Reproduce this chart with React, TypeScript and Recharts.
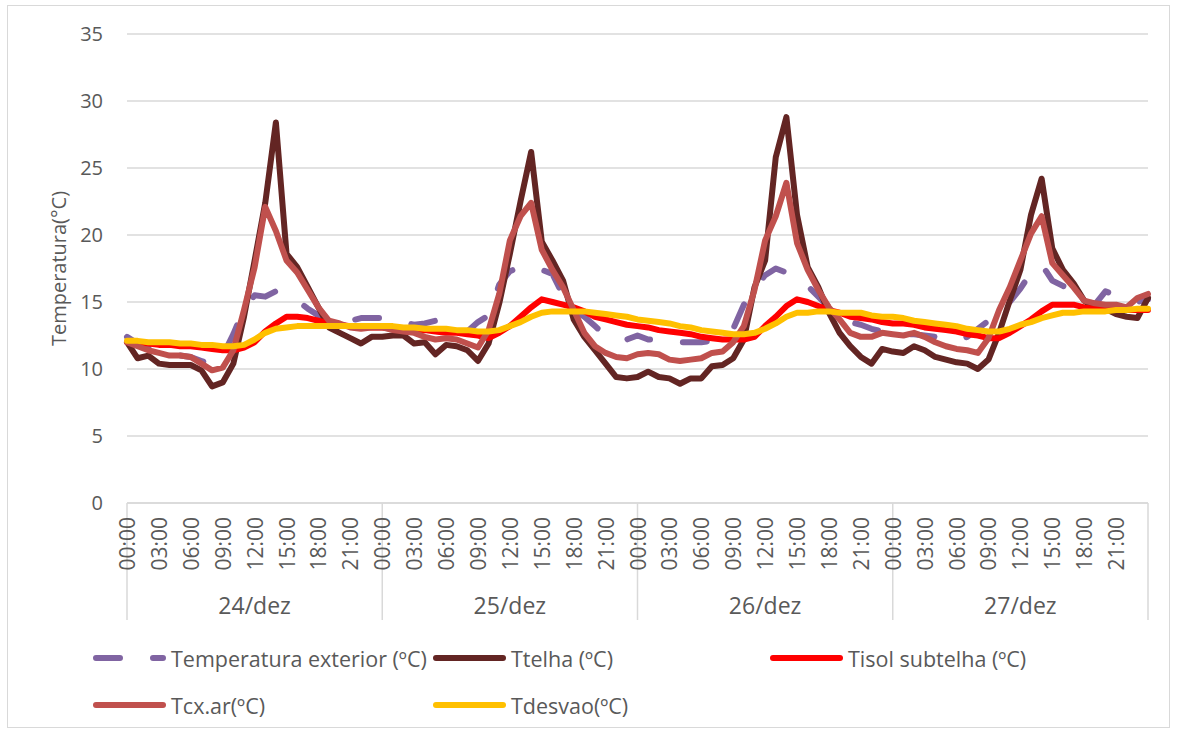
import React from "react";
import { LineChart, Line, XAxis, YAxis, CartesianGrid } from "recharts";

// hora desde 24/dez 00:00 (0..96)
const horas = Array.from({ length: 97 }, (_, i) => i);

const dias = ["24/dez", "25/dez", "26/dez", "27/dez"];
const ticksHoras = [0, 3, 6, 9, 12, 15, 18, 21, 24, 27, 30, 33, 36, 39, 42, 45, 48, 51, 54, 57, 60, 63, 66, 69, 72, 75, 78, 81, 84, 87, 90, 93, 96];
const ticksDias = [12, 36, 60, 84];
const ticksY = [0, 5, 10, 15, 20, 25, 30, 35];

const tempExterior = [
  12.4, 11.9, 11.6, 11.3, 11.1, 11.0, 10.9, 10.6, 10.3, 11.0, 12.6, 14.5, 15.5, 15.4, 15.8, 15.4, 15.1, 14.5, 14.0, 13.5, 13.3, 13.6, 13.8, 13.8,
  13.8, 13.7, 13.5, 13.3, 13.4, 13.6, 13.5, 13.0, 12.8, 13.5, 14.0, 16.3, 17.3, 17.6, 17.6, 17.4, 17.1, 15.5, 14.4, 13.9, 13.2, 12.5, 12.3, 12.2,
  12.5, 12.2, 12.2, 12.1, 12.0, 12.0, 12.0, 12.1, 12.3, 13.0, 14.8, 16.0, 17.0, 17.5, 17.2, 16.9, 16.2, 15.4, 14.6, 13.9, 13.5, 13.3, 13.0, 12.8,
  12.6, 12.6, 12.6, 12.5, 12.4, 12.2, 12.1, 12.4, 13.0, 13.6, 14.0, 15.0, 16.0, 17.2, 17.8, 16.6, 16.2, 15.9, 15.2, 14.8, 15.8, 15.5, 15.2, 15.0, 15.2,
];

const tTelha = [
  12.0, 10.8, 11.0, 10.4, 10.3, 10.3, 10.3, 9.9, 8.7, 9.0, 10.4, 13.9, 18.1, 22.4, 28.4, 18.6, 17.6, 16.1, 14.6, 13.1, 12.7, 12.3, 11.9, 12.4,
  12.4, 12.5, 12.5, 11.9, 12.0, 11.1, 11.8, 11.7, 11.4, 10.6, 11.9, 14.9, 18.6, 22.5, 26.2, 19.5, 18.1, 16.6, 13.7, 12.4, 11.4, 10.4, 9.4, 9.3,
  9.4, 9.8, 9.4, 9.3, 8.9, 9.3, 9.3, 10.2, 10.3, 10.8, 12.2, 16.1, 18.1, 25.8, 28.8, 21.5, 17.6, 16.1, 14.2, 12.7, 11.7, 10.9, 10.4, 11.5,
  11.3, 11.2, 11.7, 11.4, 10.9, 10.7, 10.5, 10.4, 10.0, 10.7, 12.7, 15.1, 17.4, 21.5, 24.2, 19.0, 17.4, 16.4, 15.1, 14.6, 14.5, 14.1, 13.9, 13.8, 15.3,
];

const tIsol = [
  12.0, 11.9, 11.9, 11.8, 11.8, 11.7, 11.7, 11.6, 11.5, 11.4, 11.4, 11.6, 12.0, 12.8, 13.4, 13.9, 13.9, 13.8, 13.6, 13.4, 13.3, 13.2, 13.2, 13.1,
  13.1, 13.0, 13.0, 12.9, 12.9, 12.8, 12.7, 12.7, 12.6, 12.5, 12.3, 12.7, 13.2, 13.9, 14.6, 15.2, 15.0, 14.8, 14.6, 14.3, 13.9, 13.7, 13.5, 13.3,
  13.2, 13.1, 12.9, 12.8, 12.7, 12.6, 12.4, 12.3, 12.2, 12.2, 12.2, 12.4, 13.2, 13.9, 14.7, 15.2, 15.0, 14.7, 14.4, 14.2, 13.9, 13.8, 13.7, 13.5,
  13.4, 13.4, 13.3, 13.1, 13.0, 12.9, 12.8, 12.6, 12.5, 12.3, 12.3, 12.7, 13.2, 13.7, 14.3, 14.8, 14.8, 14.8, 14.6, 14.5, 14.5, 14.4, 14.4, 14.4, 14.4,
];

const tCxAr = [
  12.0, 11.7, 11.4, 11.2, 11.0, 11.0, 10.9, 10.4, 9.9, 10.1, 11.4, 14.4, 17.6, 22.1, 20.3, 18.1, 17.2, 15.9, 14.6, 13.6, 13.4, 13.1, 13.0, 13.1,
  13.1, 12.9, 12.8, 12.7, 12.4, 12.2, 12.3, 12.2, 11.9, 11.6, 12.9, 15.6, 19.6, 21.4, 22.4, 18.9, 17.4, 16.1, 14.4, 12.7, 11.7, 11.2, 10.9, 10.8,
  11.1, 11.2, 11.1, 10.7, 10.6, 10.7, 10.8, 11.2, 11.3, 12.0, 13.2, 15.9, 19.6, 21.4, 23.9, 19.4, 17.4, 15.9, 14.6, 13.7, 12.7, 12.4, 12.4, 12.7,
  12.6, 12.5, 12.7, 12.4, 12.0, 11.7, 11.5, 11.4, 11.2, 12.3, 14.4, 16.1, 18.1, 20.1, 21.4, 17.9, 17.0, 16.1, 15.1, 14.9, 14.8, 14.8, 14.6, 15.3, 15.6,
];

const tDesvao = [
  12.1, 12.1, 12.0, 12.0, 12.0, 11.9, 11.9, 11.8, 11.8, 11.7, 11.7, 11.8, 12.2, 12.7, 13.0, 13.1, 13.2, 13.2, 13.2, 13.2, 13.2, 13.2, 13.2, 13.2,
  13.2, 13.2, 13.1, 13.1, 13.0, 13.0, 13.0, 12.9, 12.9, 12.8, 12.8, 12.9, 13.2, 13.5, 13.9, 14.2, 14.3, 14.3, 14.3, 14.3, 14.2, 14.1, 14.0, 13.9,
  13.7, 13.6, 13.5, 13.4, 13.2, 13.1, 12.9, 12.8, 12.7, 12.6, 12.6, 12.7, 13.0, 13.4, 13.9, 14.2, 14.2, 14.3, 14.3, 14.2, 14.2, 14.2, 14.0, 13.9,
  13.9, 13.8, 13.6, 13.5, 13.4, 13.3, 13.2, 13.0, 12.9, 12.8, 12.8, 13.0, 13.3, 13.5, 13.8, 14.0, 14.2, 14.2, 14.3, 14.3, 14.3, 14.4, 14.4, 14.5, 14.5,
];

const series = [
  { key: "tempExterior", name: "Temperatura exterior (ºC)", color: "#8064A2", dash: "24 33" },
  { key: "tTelha", name: "Ttelha (ºC)", color: "#632523" },
  { key: "tIsol", name: "Tisol subtelha (ºC)", color: "#FF0000" },
  { key: "tCxAr", name: "Tcx.ar(ºC)", color: "#C0504D" },
  { key: "tDesvao", name: "Tdesvao(ºC)", color: "#FFC000" },
];

// posição da legenda (linha, coluna) como no Excel
const legendPos = [
  { left: 90, top: 658 },
  { left: 430, top: 658 },
  { left: 767, top: 658 },
  { left: 90, top: 705 },
  { left: 430, top: 705 },
];

const data = horas.map((h, i) => ({
  h,
  tempExterior: tempExterior[i],
  tTelha: tTelha[i],
  tIsol: tIsol[i],
  tCxAr: tCxAr[i],
  tDesvao: tDesvao[i],
}));

const TEXT = "#595959";
const GRID = "#d9d9d9";

const HourTick = (props: any) => {
  const { x, y, payload } = props;
  const h = payload.value as number;
  const label = `${String(h % 24).padStart(2, "0")}:00`;
  const ty = y + 14;
  return (
    <g>
      {h % 24 === 0 && <line x1={x} x2={x} y1={y} y2={y + 117} stroke={GRID} strokeWidth={1.5} />}
      {h < 96 && (
        <text
          x={x}
          y={ty}
          transform={`rotate(-90, ${x}, ${ty})`}
          textAnchor="end"
          dominantBaseline="central"
          fill={TEXT}
          fontSize={21}
        >
          {label}
        </text>
      )}
    </g>
  );
};

export default function App() {
  return (
    <div
      style={{
        position: "absolute",
        left: 0,
        top: 0,
        width: 1177,
        height: 733,
        background: "#fff",
        fontFamily: "'Open Sans', sans-serif",
      }}
    >
      <div
        style={{
          position: "absolute",
          left: 7,
          top: 5,
          width: 1163,
          height: 723,
          border: `1.5px solid ${GRID}`,
          boxSizing: "border-box",
        }}
      />
      <LineChart width={1177} height={733} data={data} margin={{ top: 34, right: 29, bottom: 0, left: 0 }}>
        <CartesianGrid vertical={false} stroke={GRID} strokeWidth={1.5} />
        <XAxis
          dataKey="h"
          type="number"
          domain={[0, 96]}
          ticks={ticksHoras}
          interval={0}
          height={90}
          tickSize={0}
          tickMargin={0}
          tickLine={false}
          axisLine={{ stroke: GRID, strokeWidth: 1.5 }}
          tick={<HourTick />}
        />
        <XAxis
          xAxisId="day"
          dataKey="h"
          type="number"
          domain={[0, 96]}
          ticks={ticksDias}
          interval={0}
          height={140}
          tickSize={0}
          tickMargin={5}
          tickLine={false}
          axisLine={false}
          tickFormatter={(v: number) => dias[Math.floor(v / 24)]}
          tick={{ fill: TEXT, fontSize: 23 }}
        />
        <YAxis
          domain={[0, 35]}
          ticks={ticksY}
          width={127}
          tickSize={0}
          tickMargin={24}
          tickLine={false}
          axisLine={false}
          tick={{ fill: TEXT, fontSize: 20 }}
          label={{
            value: "Temperatura(°C)",
            angle: -90,
            position: "insideLeft",
            offset: 59,
            style: { textAnchor: "middle", fill: TEXT, fontSize: 20 },
          }}
        />
        {series.map((s) => (
          <Line
            key={s.key}
            type="linear"
            dataKey={s.key}
            name={s.name}
            stroke={s.color}
            strokeWidth={6}
            strokeDasharray={s.dash}
            strokeLinecap="round"
            strokeLinejoin="round"
            dot={false}
            activeDot={false}
            isAnimationActive={false}
          />
        ))}
      </LineChart>
      {series.map((s, i) => (
        <div
          key={s.key}
          style={{
            position: "absolute",
            left: legendPos[i].left,
            top: legendPos[i].top - 15,
            height: 30,
            display: "flex",
            alignItems: "center",
            color: TEXT,
            fontSize: 21.5,
            whiteSpace: "nowrap",
          }}
        >
          <svg width={76} height={10} style={{ marginRight: 5 }}>
            <line
              x1={6}
              x2={73}
              y1={5}
              y2={5}
              stroke={s.color}
              strokeWidth={6}
              strokeLinecap="round"
              strokeDasharray={s.dash}
            />
          </svg>
          <span>{s.name}</span>
        </div>
      ))}
    </div>
  );
}
